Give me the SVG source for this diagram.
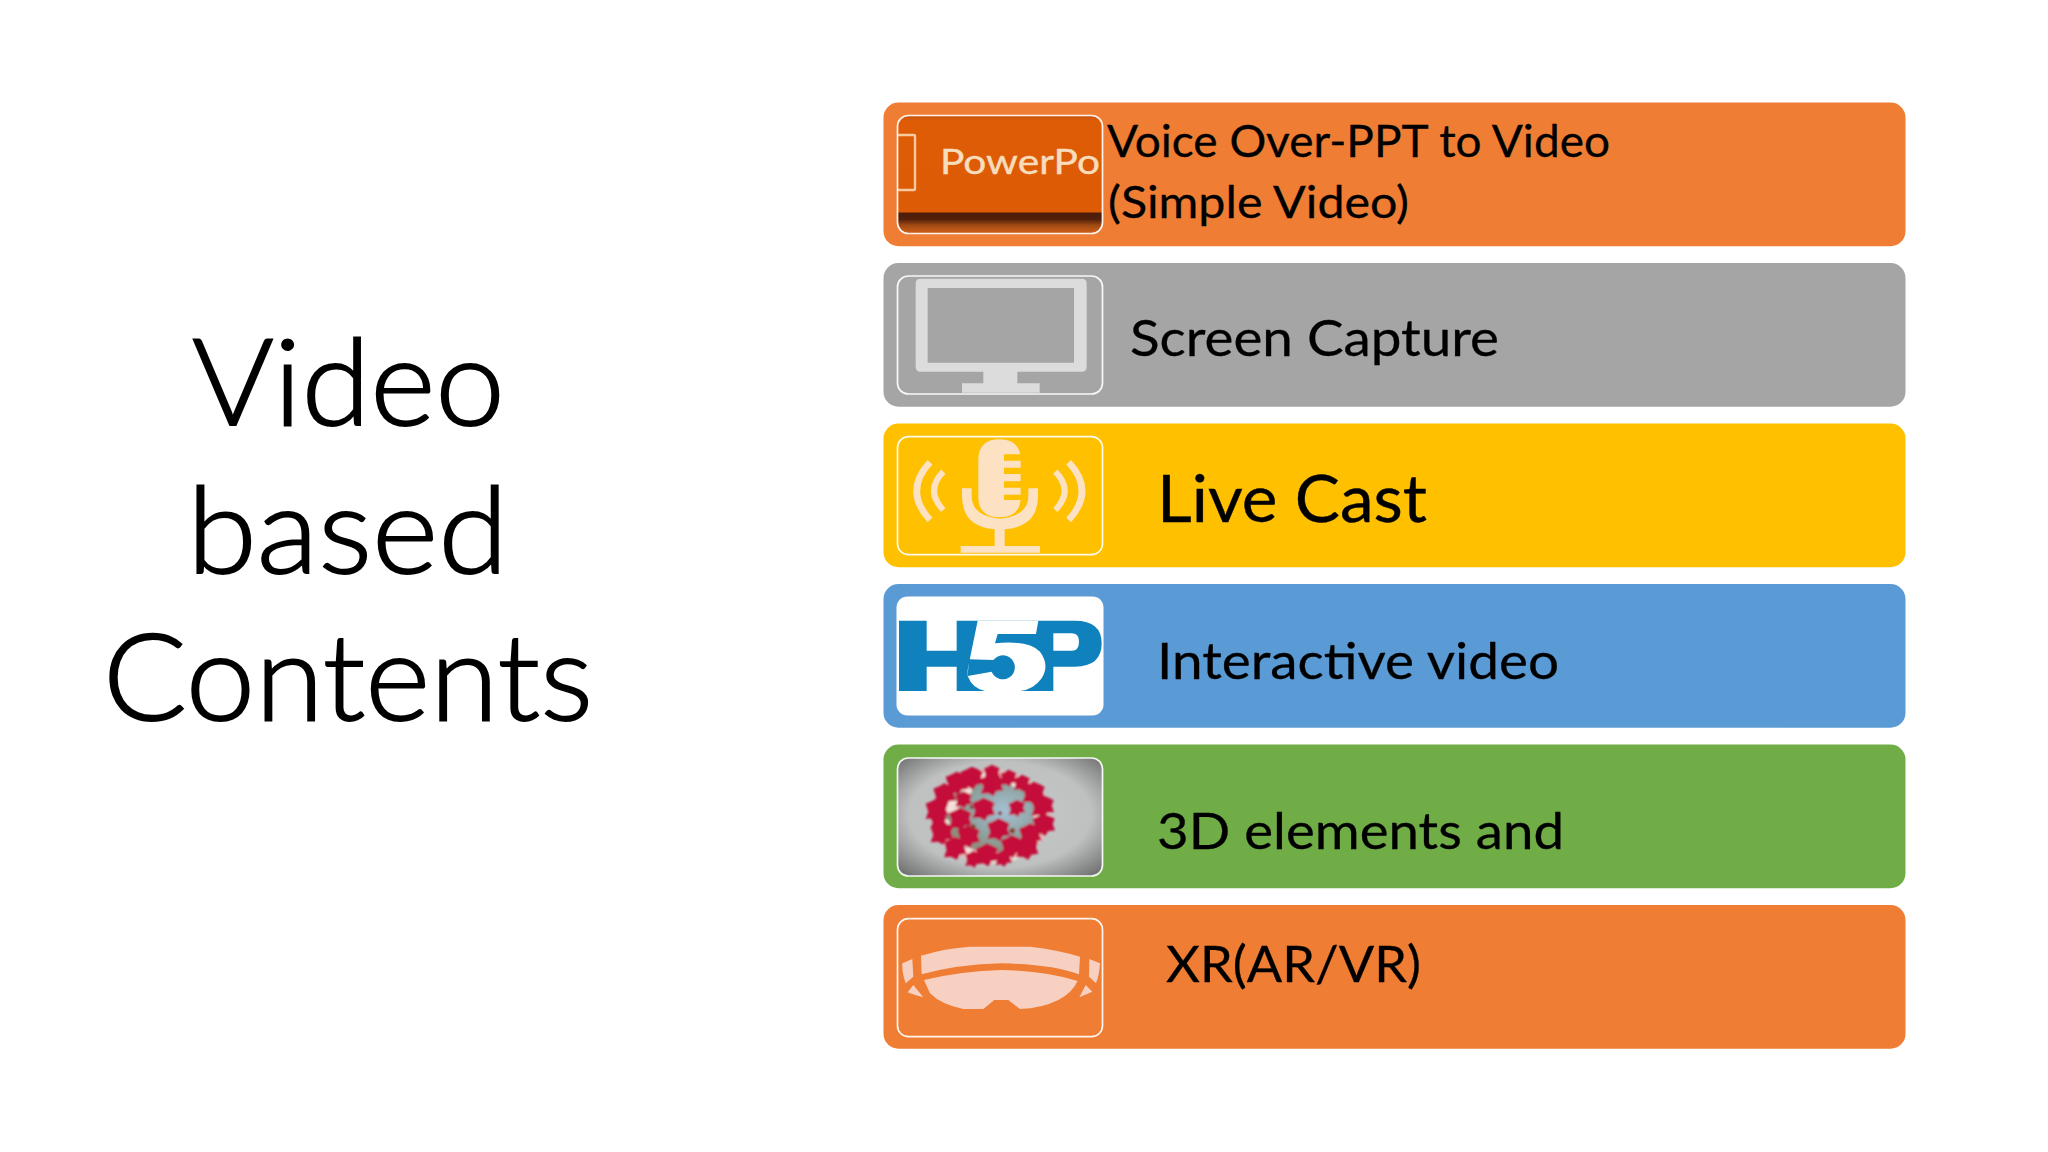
<svg xmlns="http://www.w3.org/2000/svg" xmlns:xlink="http://www.w3.org/1999/xlink" width="2048" height="1152" viewBox="0 0 2048 1152">
<style>
text{font-family:"Lato","Open Sans","Liberation Sans",sans-serif;fill:#000}
.title{font-size:120px;font-weight:300;stroke:#000;stroke-width:1.8}
.l44{font-size:44px;stroke:#000;stroke-width:.3}
.l51{font-size:51px;stroke:#000;stroke-width:.3}
.l65{font-size:65px;stroke:#000;stroke-width:.4}
.frame{fill:none;stroke:#fff;stroke-width:1.7;opacity:.92}
.bar{stroke:none}
.ic{fill:#FDE1C3}
.wave{fill:none;stroke:#FDE1C3}
.goggle{fill:#F8D0C2}
.mon{fill:#DCDCDC}
</style>
<defs>
<linearGradient id="pptBand" x1="0" y1="0" x2="0" y2="1">
<stop offset="0" stop-color="#C65510"/><stop offset=".05" stop-color="#DF5C06"/><stop offset=".815" stop-color="#DD5B05"/><stop offset=".83" stop-color="#4C1B0A"/><stop offset=".88" stop-color="#54200B"/><stop offset=".93" stop-color="#A04A12"/><stop offset="1" stop-color="#D2601A"/>
</linearGradient>
<radialGradient id="virusBg" cx=".5" cy=".48" r=".72">
<stop offset="0" stop-color="#C6C9C9"/><stop offset=".62" stop-color="#BFC1C1"/><stop offset="1" stop-color="#666666"/>
</radialGradient>
<radialGradient id="virusCore" cx=".6" cy=".45" r=".55">
<stop offset="0" stop-color="#A6C0D4"/><stop offset=".6" stop-color="#8FA5A4"/><stop offset="1" stop-color="#8C8F80"/>
</radialGradient>
<filter id="soft" x="-10%" y="-10%" width="120%" height="120%"><feGaussianBlur stdDeviation="0.9"/></filter>
<clipPath id="cp1"><rect x="897.5" y="115.5" width="205" height="118" rx="11"/></clipPath>
<clipPath id="cp5"><rect x="897.5" y="758" width="205" height="118" rx="11"/></clipPath>
<polygon id="spike" points="-33,-19 -14,-27 0,-35 19,-27 34,-19 28,-3 35,16 14,19 5,34 -11,25 -33,27 -25,5"/>
<polygon id="spikeS" points="-24,-14 -10,-20 0,-26 14,-20 25,-14 20,-2 26,12 10,14 4,25 -8,18 -24,20 -18,4"/>
</defs>
<rect width="2048" height="1152" fill="#fff"/>

<g id="title">
<text class="title" x="192" y="425" textLength="313" lengthAdjust="spacingAndGlyphs">Video</text>
<text class="title" x="187" y="573" textLength="321" lengthAdjust="spacingAndGlyphs">based</text>
<text class="title" x="103" y="720" textLength="490" lengthAdjust="spacingAndGlyphs">Contents</text>
</g>

<g id="connectors"></g>

<g id="node-voice-over">
<rect class="bar" x="883.5" y="102.5" width="1022" height="143.7" rx="15" fill="#EF7D33"/>
<g clip-path="url(#cp1)">
<rect x="897.5" y="115.5" width="205" height="118" fill="url(#pptBand)"/>
<rect x="889" y="135" width="26" height="55" rx="1" fill="none" stroke="#F6C9A0" stroke-width="2.4"/>
<text x="940" y="174" font-size="35" style="fill:#F8DDBD;stroke:#F8DDBD;stroke-width:.4" textLength="160" lengthAdjust="spacingAndGlyphs">PowerPo</text>
</g>
<rect class="frame" x="897.5" y="115.5" width="205" height="118" rx="11"/>
<text class="l44" x="1107" y="157" textLength="503" lengthAdjust="spacingAndGlyphs">Voice Over-PPT to Video</text>
<text class="l44" x="1108" y="218" textLength="301" lengthAdjust="spacingAndGlyphs">(Simple Video)</text>
</g>

<g id="node-screen-capture">
<rect class="bar" x="883.5" y="263" width="1022" height="143.7" rx="15" fill="#A5A5A5"/>
<g transform="translate(890 90) scale(.33333)">
<path class="mon" fill-rule="evenodd" d="M92 566H575Q590 566 590 581V830Q590 845 575 845H382V880H449V908H216V880H280V845H92Q77 845 77 830V581Q77 566 92 566ZM113 594V818H552V594Z"/>
</g>
<rect class="frame" x="897.5" y="276" width="205" height="118" rx="11"/>
<text class="l51" x="1130" y="356" textLength="369" lengthAdjust="spacingAndGlyphs">Screen Capture</text>
</g>

<g id="node-live-cast">
<rect class="bar" x="883.5" y="423.5" width="1022" height="143.7" rx="15" fill="#FFC000"/>
<g transform="translate(890 420) scale(.33333)">
<path class="ic" d="M265 120Q265 58 328 58Q392 58 392 120V230Q392 292 328 292Q265 292 265 230Z"/>
<path fill="#FFC000" d="M342 103H394V122H342ZM342 143H394V162H342ZM342 184H394V203H342ZM342 224H394V240H342Z"/>
<path class="ic" d="M216 205H245V228Q245 288 328 296Q415 288 415 228V205H444V228Q444 320 344 328V378H450V398H212V378H314V328Q216 320 216 228Z"/>
<path class="wave" stroke-width="20" d="M120 127Q40 212 120 300M536 127Q616 212 536 300"/>
<path class="wave" stroke-width="18" d="M160 155Q104 212 160 270M496 155Q552 212 496 270"/>
</g>
<rect class="frame" x="897.5" y="436.7" width="205" height="118" rx="11"/>
<text class="l65" x="1157" y="522" textLength="270" lengthAdjust="spacingAndGlyphs">Live Cast</text>
</g>

<g id="node-interactive-video">
<rect class="bar" x="883.5" y="584" width="1022" height="143.7" rx="15" fill="#5B9BD5"/>
<rect x="896.5" y="596.5" width="207" height="119" rx="11" fill="#fff"/>
<g transform="translate(895 610) scale(.33333)">
<path fill="#0F81BD" fill-rule="evenodd" d="M12 32H95V122H185V32H540Q620 32 620 100Q620 170 540 170H475V243H185V170H95V243H12ZM475 70H530Q552 70 552 95Q552 122 530 122H475Z"/>
<path fill="#fff" d="M248 32H430L423 72H308L300 100Q400 90 435 125Q465 165 440 205Q415 240 375 243H270Q232 235 218 198V180L228 130Z"/>
<path fill="#0F81BD" d="M222 148L295 150A36 36 0 1 1 290 185L218 198Z"/>
</g>
<text class="l51" x="1157" y="679" textLength="402" lengthAdjust="spacingAndGlyphs">Interactive video</text>
</g>

<g id="node-3d-elements">
<rect class="bar" x="883.5" y="744.5" width="1022" height="143.7" rx="15" fill="#70AD47"/>
<g clip-path="url(#cp5)">
<rect x="897.5" y="758" width="205" height="118" fill="url(#virusBg)"/>
<g filter="url(#soft)">
<g transform="translate(925 760) scale(.33333)">
<ellipse cx="197" cy="168" rx="180" ry="140" fill="#E8BFC2"/>
<ellipse cx="205" cy="165" rx="150" ry="112" fill="url(#virusCore)"/>
<g fill="#F3E1DC"><circle cx="80" cy="140" r="22"/><circle cx="125" cy="90" r="16"/><circle cx="60" cy="190" r="14"/><circle cx="170" cy="48" r="12"/><circle cx="270" cy="70" r="12"/><circle cx="335" cy="170" r="10"/><circle cx="130" cy="275" r="12"/><circle cx="270" cy="290" r="10"/><circle cx="205" cy="300" r="10"/></g>
<g fill="#C4113A">
<use xlink:href="#spikeS" href="#spikeS" x="200" y="40"/><use xlink:href="#spikeS" href="#spikeS" x="250" y="55"/><use xlink:href="#spikeS" href="#spikeS" x="290" y="70"/><use xlink:href="#spike" href="#spike" x="325" y="100"/><use xlink:href="#spike" href="#spike" x="352" y="140"/><use xlink:href="#spike" href="#spike" x="355" y="195"/><use xlink:href="#spike" href="#spike" x="315" y="225"/><use xlink:href="#spike" href="#spike" x="305" y="265"/><use xlink:href="#spike" href="#spike" x="260" y="260"/><use xlink:href="#spikeS" href="#spikeS" x="235" y="295"/><use xlink:href="#spike" href="#spike" x="185" y="285"/><use xlink:href="#spikeS" href="#spikeS" x="145" y="298"/><use xlink:href="#spike" href="#spike" x="90" y="265"/><use xlink:href="#spike" href="#spike" x="50" y="220"/><use xlink:href="#spike" href="#spike" x="35" y="150"/><use xlink:href="#spikeS" href="#spikeS" x="40" y="185"/><use xlink:href="#spike" href="#spike" x="58" y="105"/><use xlink:href="#spike" href="#spike" x="95" y="70"/><use xlink:href="#spike" href="#spike" x="140" y="55"/><use xlink:href="#spike" href="#spike" x="200" y="75"/><use xlink:href="#spike" href="#spike" x="175" y="148"/><use xlink:href="#spike" href="#spike" x="105" y="178"/><use xlink:href="#spike" href="#spike" x="130" y="230"/><use xlink:href="#spike" href="#spike" x="220" y="210"/><use xlink:href="#spikeS" href="#spikeS" x="275" y="145"/><use xlink:href="#spikeS" href="#spikeS" x="115" y="120"/>
</g>
<g fill="#8A3A2A"><circle cx="145" cy="200" r="7"/><circle cx="262" cy="212" r="8"/><circle cx="225" cy="160" r="6"/><circle cx="140" cy="142" r="6"/></g>
</g>
</g>
</g>
<rect class="frame" x="897.5" y="758" width="205" height="118" rx="11"/>
<text class="l51" x="1157" y="849" textLength="407" lengthAdjust="spacingAndGlyphs">3D elements and</text>
</g>

<g id="node-xr">
<rect class="bar" x="883.5" y="905" width="1022" height="143.7" rx="15" fill="#EF7D33"/>
<g transform="translate(895 935) scale(.33333)">
<path class="goggle" d="M78 62Q150 40 225 35H405Q490 45 555 65L552 118Q470 88 320 85Q190 88 80 118Z"/>
<path class="goggle" d="M87 135Q200 108 320 105Q450 108 548 138Q530 175 490 195Q440 220 375 222L340 195H298L265 222H205Q140 210 105 175Z"/>
<path class="goggle" d="M22 85L52 72L55 125L32 145Q20 110 22 85ZM38 172L55 150L85 187Q55 180 38 172ZM583 72L615 85Q613 120 603 145L582 125ZM572 150L592 170L553 187Z"/>
</g>
<rect class="frame" x="897.5" y="918.7" width="205" height="118" rx="11"/>
<text class="l51" x="1166" y="982" textLength="255" lengthAdjust="spacingAndGlyphs">XR(AR/VR)</text>
</g>
</svg>
